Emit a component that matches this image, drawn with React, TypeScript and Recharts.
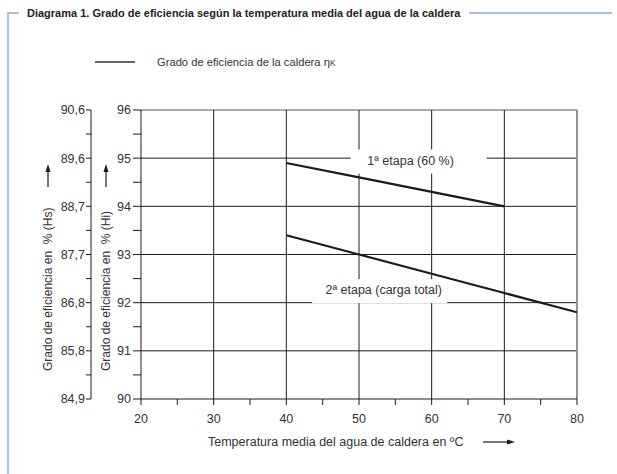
import React from 'react';
import { LineChart, Line, XAxis, YAxis, ReferenceLine, ReferenceDot } from 'recharts';

const temps = [40, 50, 60, 70, 80];
const etapa1 = [94.9, 94.6, 94.3, 94.0, null];
const etapa2 = [93.4, 93.0, 92.6, 92.2, 91.8];

const xTicks = [20, 25, 30, 35, 40, 45, 50, 55, 60, 65, 70, 75, 80];
const xMajor = [20, 30, 40, 50, 60, 70, 80];
const yTicks = [90, 90.5, 91, 91.5, 92, 92.5, 93, 93.5, 94, 94.5, 95, 95.5, 96];
const yMajor = [90, 91, 92, 93, 94, 95, 96];
const hiLabels = ['90', '91', '92', '93', '94', '95', '96'];
const hsLabels = ['84,9', '85,8', '86,8', '87,7', '88,7', '89,6', '90,6'];
const gridX = [30, 40, 50, 60, 70];
const gridY = [91, 92, 93, 94, 95, 96];

const seriesLabels = ['1ª etapa (60 %)', '2ª etapa (carga total)'];
const labelX = [57.1, 53.4];
const labelY = [94.95, 92.26];

const data = temps.map((t, i) => ({ t, etapa1: etapa1[i], etapa2: etapa2[i] }));

const FONT = '"Liberation Sans", Arial, sans-serif';
const FRAME = '#a9c0e0';
const INK = '#1c1c1c';
const TXT = '#333';

const fmtHi = (v: number) => {
	const i = yMajor.indexOf(v);
	return i >= 0 ? hiLabels[i] : '';
};
const fmtHs = (v: number) => {
	const i = yMajor.indexOf(v);
	return i >= 0 ? hsLabels[i] : '';
};
const fmtX = (v: number) => (xMajor.includes(v) ? String(v) : '');

// título vertical con flecha
const AxisTitle = (props: any) => {
	const { viewBox, text, dx } = props;
	const cx = viewBox.x + dx;
	const by = viewBox.y + viewBox.height - 28;
	return (
		<g>
			<text
				transform={`translate(${cx},${by}) rotate(-90)`}
				dominantBaseline="central"
				fontSize={12}
				fill={TXT}
				fontFamily={FONT}
				xmlSpace="preserve"
			>
				{text}
			</text>
			<line x1={cx} x2={cx} y1={by - 184} y2={by - 200} stroke={INK} strokeWidth={1.2} />
			<path d={`M${cx - 2.5},${by - 199} L${cx},${by - 207} L${cx + 2.5},${by - 199} Z`} fill={INK} />
		</g>
	);
};

const XTitle = (props: any) => {
	const { viewBox } = props;
	const x0 = viewBox.x + 67;
	const y0 = viewBox.y + 43;
	return (
		<g>
			<text x={x0} y={y0} dominantBaseline="central" fontSize={12.5} fill={TXT} fontFamily={FONT}>
				Temperatura media del agua de caldera en ºC
			</text>
			<line x1={x0 + 275} x2={x0 + 300} y1={y0} y2={y0} stroke={INK} strokeWidth={1.2} />
			<path d={`M${x0 + 299},${y0 - 2.5} L${x0 + 307},${y0} L${x0 + 299},${y0 + 2.5} Z`} fill={INK} />
		</g>
	);
};

const StageLabel = (props: any) => {
	const { cx, cy, text, w, off } = props;
	if (cx == null || cy == null) return null;
	return (
		<g>
			<rect x={cx - w / 2 + off} y={cy - 11} width={w} height={24} fill="#fff" />
			<text x={cx} y={cy} textAnchor="middle" dominantBaseline="central" fontSize={12.5} fill={TXT} fontFamily={FONT}>
				{text}
			</text>
		</g>
	);
};

export default function App() {
	return (
		<div style={{ position: 'absolute', left: 0, top: 0, width: 617, height: 474, background: '#fff', fontFamily: FONT }}>
			{/* marco */}
			<div style={{ position: 'absolute', left: 7, top: 12, width: 1.5, height: 462, background: FRAME }} />
			<div style={{ position: 'absolute', left: 7, top: 12, width: 12, height: 1.5, background: FRAME }} />
			<div style={{ position: 'absolute', left: 469, top: 12, width: 143, height: 1.5, background: FRAME }} />
			<div
				style={{
					position: 'absolute',
					left: 27,
					top: 5,
					fontSize: 11,
					fontWeight: 'bold',
					color: '#222',
					whiteSpace: 'nowrap',
					lineHeight: '16px',
				}}
			>
				Diagrama 1. Grado de eficiencia según la temperatura media del agua de la caldera
			</div>

			{/* leyenda */}
			<div style={{ position: 'absolute', left: 95, top: 61, width: 40, height: 1.5, background: '#666' }} />
			<div style={{ position: 'absolute', left: 157, top: 53, fontSize: 11.2, color: TXT, whiteSpace: 'nowrap', lineHeight: '18px' }}>
				Grado de eficiencia de la caldera η<span style={{ fontSize: 8.5 }}>K</span>
			</div>

			<div style={{ position: 'absolute', left: 0, top: 0 }}>
				<LineChart width={617} height={474} data={data} margin={{ top: 110, right: 40, left: 31, bottom: 30 }}>
					<XAxis
						dataKey="t"
						type="number"
						domain={[20, 80]}
						allowDataOverflow
						ticks={xTicks}
						tickFormatter={fmtX}
						interval={0}
						height={45}
						tickSize={6}
						tickMargin={9}
						stroke={INK}
						tick={{ fill: TXT, fontSize: 12.5, fontFamily: FONT }}
						label={<XTitle />}
					/>
					<YAxis
						yAxisId="hi"
						type="number"
						domain={[90, 96]}
						allowDataOverflow
						ticks={yTicks}
						tickFormatter={fmtHi}
						interval={0}
						width={50}
						tickSize={8}
						tickMargin={2}
						stroke={INK}
						tick={{ fill: TXT, fontSize: 12.5, fontFamily: FONT }}
						label={<AxisTitle text="Grado de eficiencia en  % (Hi)" dx={15} />}
					/>
					<YAxis
						yAxisId="hs"
						type="number"
						domain={[90, 96]}
						allowDataOverflow
						ticks={yTicks}
						tickFormatter={fmtHs}
						interval={0}
						width={60}
						tickSize={5}
						tickMargin={1}
						stroke={INK}
						tick={{ fill: TXT, fontSize: 12.5, fontFamily: FONT }}
						label={<AxisTitle text="Grado de eficiencia en  % (Hs)" dx={17} />}
					/>
					{gridY.map((v) => (
						<ReferenceLine key={'gy' + v} yAxisId="hi" y={v} stroke={v === 96 ? '#555' : INK} strokeWidth={1} />
					))}
					{gridX.map((v) => (
						<ReferenceLine key={'gx' + v} yAxisId="hi" x={v} stroke={INK} strokeWidth={1} />
					))}
					<ReferenceLine yAxisId="hi" x={80} stroke="#888" strokeWidth={1.8} />
					<ReferenceLine yAxisId="hs" y={90} stroke="none" />
					<Line yAxisId="hi" dataKey="etapa1" stroke={INK} strokeWidth={2.2} dot={false} isAnimationActive={false} />
					<Line yAxisId="hi" dataKey="etapa2" stroke={INK} strokeWidth={2.2} dot={false} isAnimationActive={false} />
					<ReferenceDot
						yAxisId="hi"
						x={labelX[0]}
						y={labelY[0]}
						shape={(p: any) => <StageLabel {...p} text={seriesLabels[0]} w={136} off={8} />}
					/>
					<ReferenceDot
						yAxisId="hi"
						x={labelX[1]}
						y={labelY[1]}
						shape={(p: any) => <StageLabel {...p} text={seriesLabels[1]} w={135} off={-4} />}
					/>
				</LineChart>
			</div>
		</div>
	);
}
